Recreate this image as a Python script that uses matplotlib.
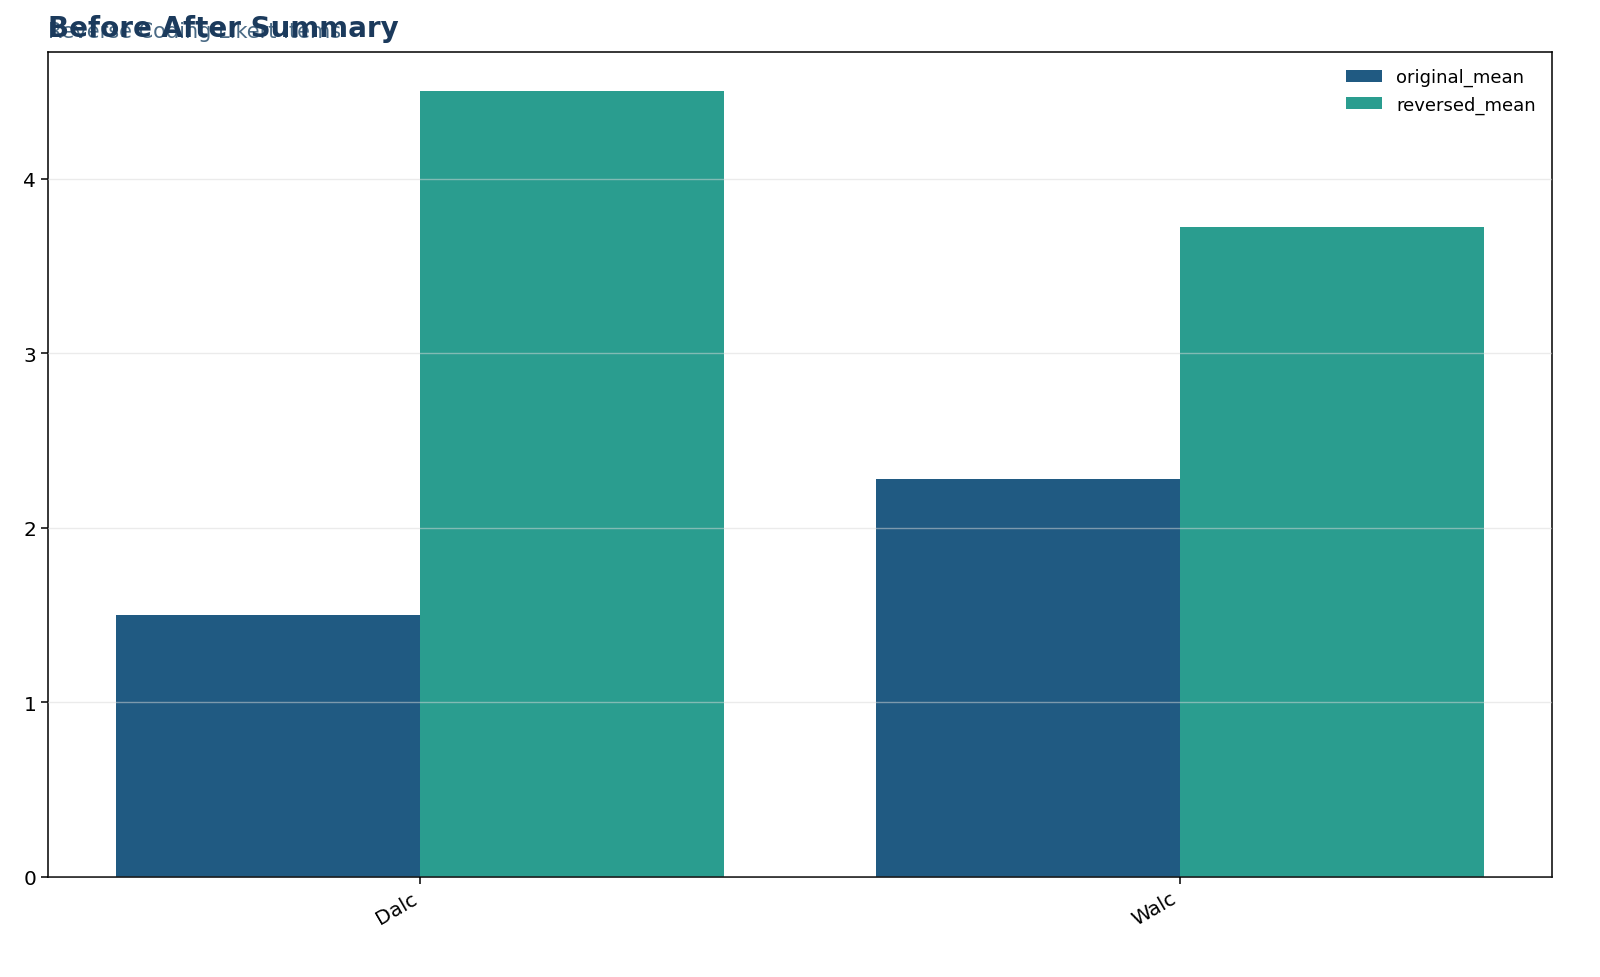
import matplotlib
matplotlib.use("Agg")
import matplotlib.pyplot as plt
import numpy as np

categories = ["Dalc", "Walc"]
original_mean = [1.50, 2.28]
reversed_mean = [4.50, 3.72]
series_names = ["original_mean", "reversed_mean"]
colors = ["#205a82", "#2a9d8f"]
yticks = [0, 1, 2, 3, 4]

fig = plt.figure(figsize=(16, 9.78), dpi=100)
ax = fig.add_axes([0.03, 0.1023, 0.94, 0.8436])

x = np.arange(len(categories))
w = 0.4
ax.bar(x - w / 2, original_mean, width=w, color=colors[0], label=series_names[0])
ax.bar(x + w / 2, reversed_mean, width=w, color=colors[1], label=series_names[1])

ax.set_xticks(x)
ax.set_xticklabels(categories, rotation=30, ha="right", fontsize=14.5)
ax.set_yticks(yticks)
ax.tick_params(axis="y", labelsize=14.5)
ax.tick_params(axis="both", length=5, width=1.1)
ax.set_xlim(-0.49, 1.49)
ax.set_ylim(0, 4.725)
ax.set_axisbelow(False)
ax.yaxis.grid(True, color="#d9d9d9", alpha=0.5, linewidth=1)
ax.xaxis.grid(False)
for s in ax.spines.values():
    s.set_linewidth(1.1)

ax.legend(frameon=False, fontsize=13, loc="upper right")

fig.text(0.03, 0.961, "Reverse Coding Likert Items", fontsize=15, color="#4a6a85",
         ha="left", va="baseline")
fig.text(0.03, 0.962, "Before After Summary", fontsize=20, fontweight="bold",
         color="#1b3a5c", ha="left", va="baseline")

fig.savefig("out.png", dpi=100)
